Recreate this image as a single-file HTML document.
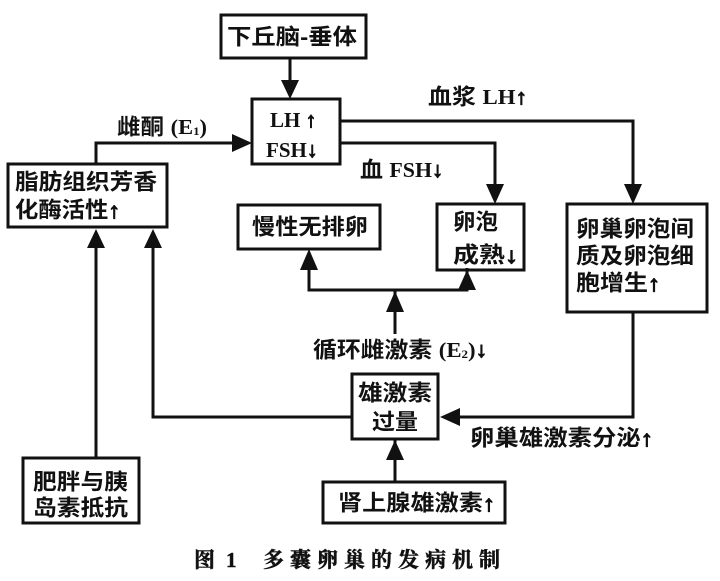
<!DOCTYPE html>
<html><head><meta charset="utf-8"><style>
html,body{margin:0;padding:0;background:#fff;}
svg{display:block;}
.cn{font-family:"Liberation Sans","Noto Sans CJK SC",sans-serif;font-weight:bold;font-size:22px;fill:#111;}
.se{font-family:"Liberation Serif","Noto Serif CJK SC",serif;font-weight:bold;font-size:21px;fill:#111;}
.ar{stroke:#111;stroke-width:1.1px;}
.cap{font-family:"Liberation Serif","Noto Serif CJK SC",serif;font-weight:bold;font-size:21px;fill:#111;stroke:#111;stroke-width:0.5px;}
</style></head><body>
<svg width="720" height="581" viewBox="0 0 720 581" xmlns="http://www.w3.org/2000/svg">
<rect x="0" y="0" width="720" height="581" fill="#fff"/>
<g fill="none" stroke="#111" stroke-width="3">
  <rect x="221" y="15" width="145" height="43"/>
  <rect x="252" y="99" width="88" height="65"/>
  <rect x="8" y="164" width="159" height="63"/>
  <rect x="238" y="205" width="142" height="44"/>
  <rect x="437" y="204" width="87" height="66"/>
  <rect x="567" y="204" width="140" height="108"/>
  <rect x="352" y="374" width="86" height="65"/>
  <rect x="323" y="482" width="182" height="41"/>
  <rect x="23" y="458" width="116" height="65"/>
  <line x1="290" y1="58" x2="290" y2="82"/>
  <polyline points="340,121 633,121 633,186"/>
  <polyline points="340,143 495,143 495,186"/>
  <polyline points="96,164 96,143 234,143"/>
  <line x1="96" y1="246" x2="96" y2="458"/>
  <polyline points="153,246 153,417 352,417"/>
  <polyline points="309,268 309,290 467,290 467,268"/>
  <line x1="395" y1="290" x2="395" y2="334"/>
  <line x1="395" y1="439" x2="395" y2="482"/>
  <polyline points="633,312 633,417 458,417"/>
</g>
<g fill="#111" stroke="none">
  <polygon points="281,80 299,80 290,99"/>
  <polygon points="624,184 642,184 633,204"/>
  <polygon points="486,184 504,184 495,204"/>
  <polygon points="232,134 232,152 252,143"/>
  <polygon points="87,248 105,248 96,229"/>
  <polygon points="144,248 162,248 153,229"/>
  <polygon points="300,270 318,270 309,249"/>
  <polygon points="458,290 476,290 467,270"/>
  <polygon points="386,312 404,312 395,291"/>
  <polygon points="386,460 404,460 395,440"/>
  <polygon points="460,408 460,426 440,417"/>
</g>
<g dominant-baseline="central">
  <text class="cn" x="227" y="37" textLength="130" lengthAdjust="spacingAndGlyphs">下丘脑-垂体</text>
  <text class="se" x="270" y="120" font-size="22">LH <tspan class="ar">↑</tspan></text>
  <text class="se" x="266" y="150" font-size="22">FSH<tspan class="ar">↓</tspan></text>
  <text class="cn" x="117" y="127" textLength="90" lengthAdjust="spacingAndGlyphs">雌酮 <tspan class="se">(E<tspan font-size="12" dy="4">1</tspan><tspan dy="-4">)</tspan></tspan></text>
  <text class="cn" x="428" y="97" textLength="99" lengthAdjust="spacingAndGlyphs">血浆 <tspan class="se">LH<tspan class="ar">↑</tspan></tspan></text>
  <text class="cn" x="360" y="170" textLength="83" lengthAdjust="spacingAndGlyphs">血 <tspan class="se">FSH<tspan class="ar">↓</tspan></tspan></text>
  <text class="cn" x="15" y="182" textLength="142" lengthAdjust="spacingAndGlyphs">脂肪组织芳香</text>
  <text class="cn" x="15" y="210" textLength="105" lengthAdjust="spacingAndGlyphs">化酶活性<tspan class="ar">↑</tspan></text>
  <text class="cn" x="252" y="227" textLength="116" lengthAdjust="spacingAndGlyphs">慢性无排卵</text>
  <text class="cn" x="453" y="222" textLength="45" lengthAdjust="spacingAndGlyphs">卵泡</text>
  <text class="cn" x="453" y="255" textLength="65" lengthAdjust="spacingAndGlyphs">成熟<tspan class="ar">↓</tspan></text>
  <text class="cn" x="576" y="229" textLength="118" lengthAdjust="spacingAndGlyphs">卵巢卵泡间</text>
  <text class="cn" x="576" y="256" textLength="118" lengthAdjust="spacingAndGlyphs">质及卵泡细</text>
  <text class="cn" x="576" y="283" textLength="84" lengthAdjust="spacingAndGlyphs">胞增生<tspan class="ar">↑</tspan></text>
  <text class="cn" x="313" y="350" textLength="174" lengthAdjust="spacingAndGlyphs">循环雌激素 <tspan class="se">(E<tspan font-size="12" dy="4">2</tspan><tspan dy="-4">)</tspan><tspan class="ar">↓</tspan></tspan></text>
  <text class="cn" x="358" y="393" textLength="74" lengthAdjust="spacingAndGlyphs">雄激素</text>
  <text class="cn" x="372" y="422" textLength="46" lengthAdjust="spacingAndGlyphs">过量</text>
  <text class="cn" x="470" y="438" textLength="183" lengthAdjust="spacingAndGlyphs">卵巢雄激素分泌<tspan class="ar">↑</tspan></text>
  <text class="cn" x="338" y="503" textLength="157" lengthAdjust="spacingAndGlyphs">肾上腺雄激素<tspan class="ar">↑</tspan></text>
  <text class="cn" x="33" y="482" textLength="95" lengthAdjust="spacingAndGlyphs">肥胖与胰</text>
  <text class="cn" x="33" y="508" textLength="95" lengthAdjust="spacingAndGlyphs">岛素抵抗</text>
  <text class="cap" x="194" y="560">图</text>
  <text class="cap" x="226" y="560">1</text>
  <text class="cap" x="263" y="560" textLength="237" lengthAdjust="spacing">多囊卵巢的发病机制</text>
</g>
</svg>
</body></html>
